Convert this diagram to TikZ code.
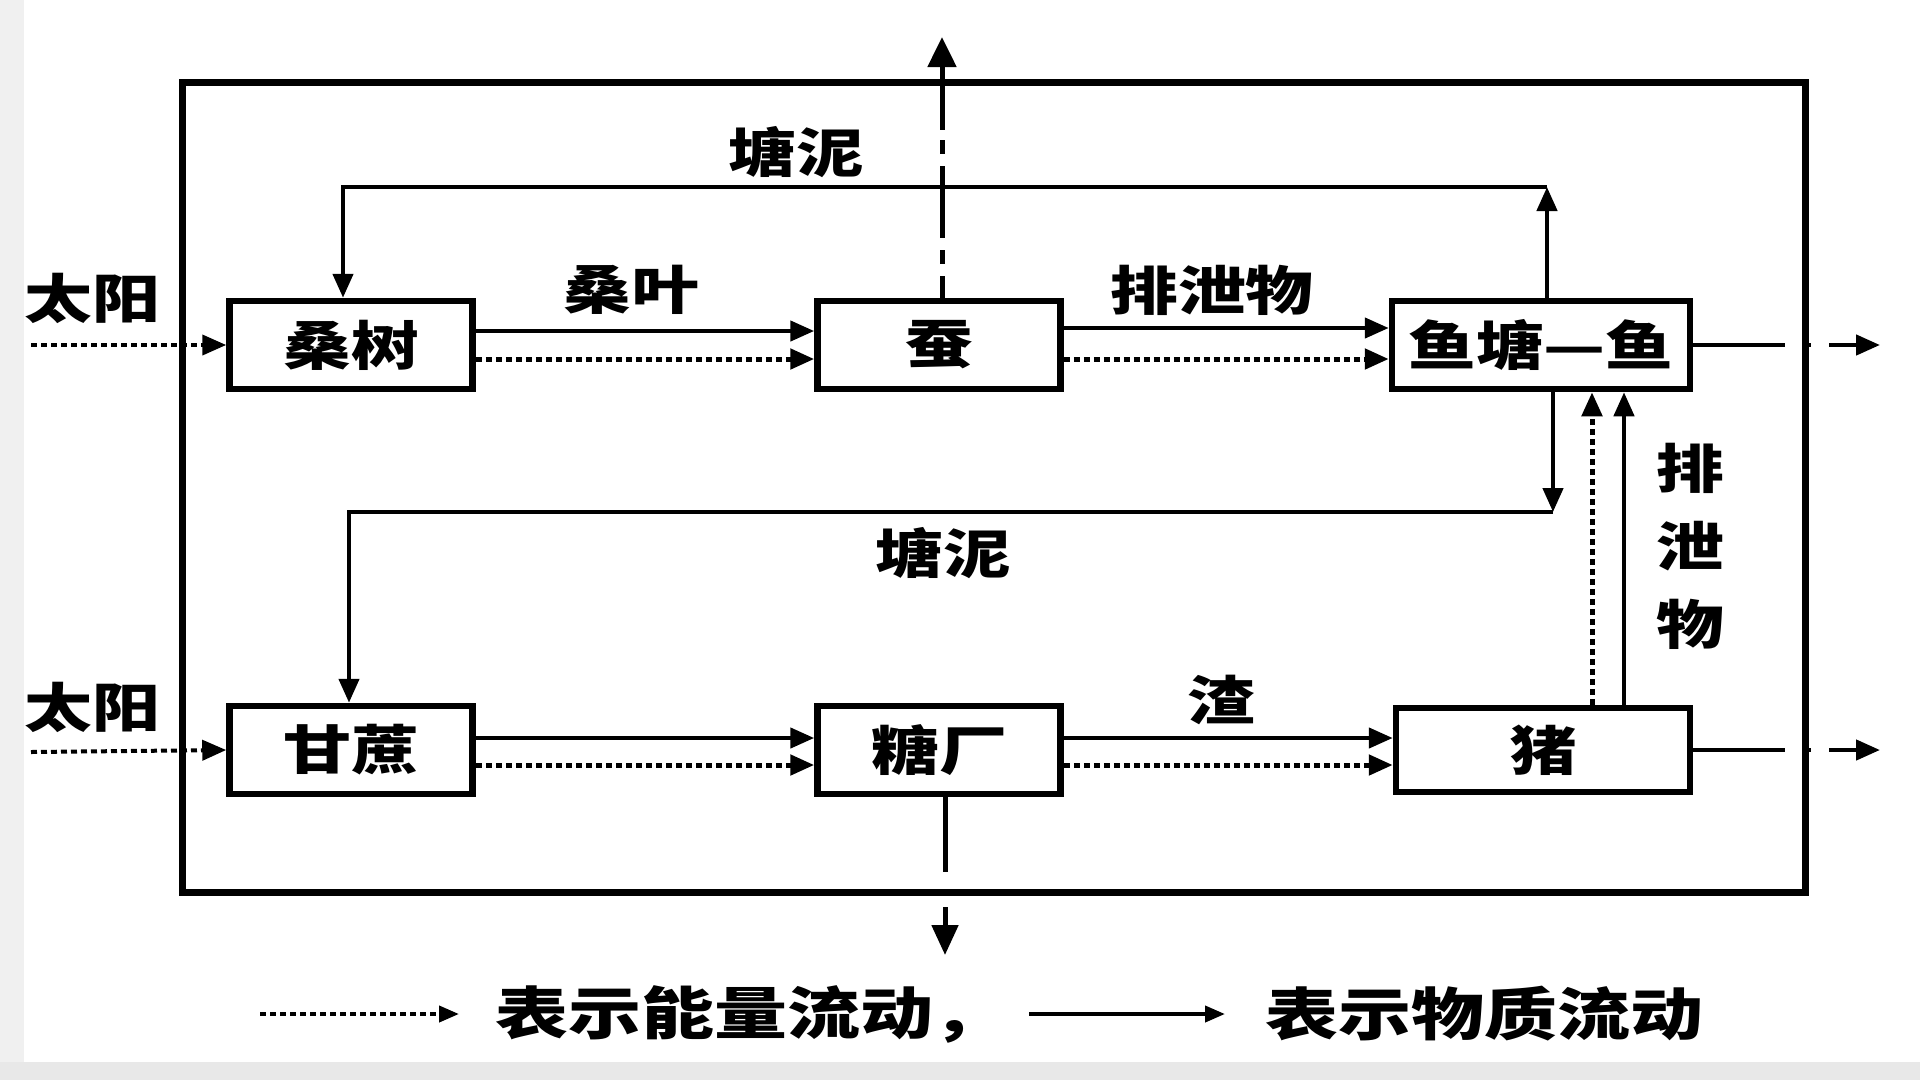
\documentclass[tikz,border=0pt]{standalone}
\usepackage{fontspec}
\newfontfamily\cjk[FakeStretch=1.28]{Noto Sans CJK SC}
\usetikzlibrary{arrows.meta}

\begin{document}
\begin{tikzpicture}[x=1pt,y=-1pt,
    box/.style={draw,line width=6.5pt,minimum width=243pt,minimum height=88pt,inner sep=0pt,
      font=\cjk\bfseries\fontsize{53}{60}\selectfont},
    lbl/.style={inner sep=0pt,align=center,font=\cjk\bfseries\fontsize{53}{78}\selectfont},
    mat/.style={line width=4.5pt,-{Triangle[length=24pt,width=20pt]}},
    ene/.style={mat,line width=5pt,dash pattern=on 6pt off 4pt}]
\useasboundingbox (0,0) rectangle (1920,1080);
\fill[gray!12] (0,0) rectangle (24,1080);
\fill[gray!18] (0,1062) rectangle (1920,1080);
\draw[line width=7pt] (182,82) rectangle (1805,892);

\node (sang) [box] at (351,345) {桑树};
\node (can) [box] at (939,345) {蚕};
\node (yu) [box,minimum width=298pt] at (1541,345) {鱼塘—鱼};
\node (gz) [box] at (351,750) {甘蔗};
\node (tc) [box] at (939,750) {糖厂};
\node (zhu) [box,minimum width=294pt,minimum height=84pt] at (1543,750) {猪};

\node (sunA) [lbl] at (92,298) {太阳};
\node (sunB) [lbl] at (92,707) {太阳};
\node (ye) [lbl] at (631,290) {桑叶};
\node (pxA) [lbl] at (1212,290) {排泄物};
\node (tnA) [lbl] at (796,152) {塘泥};
\node (tnB) [lbl] at (943,553) {塘泥};
\node (zha) [lbl] at (1221,700) {渣};
\node (pxB) [lbl] at (1690,546) {排\\泄\\物};

\coordinate (sunAs) at (31,345);
\coordinate (sunBs) at (31,752);
\draw[ene,line width=4pt] (sunAs) -- (sang.west);
\draw[ene,line width=4pt] (sunBs) -- (gz.west);

\draw[mat] ([yshift=14pt]sang.east) -- ([yshift=14pt]can.west);
\draw[ene] ([yshift=-14pt]sang.east) -- ([yshift=-14pt]can.west);
\draw[mat] ([yshift=17pt]can.east) -- ([yshift=17pt]yu.west);
\draw[ene] ([yshift=-14pt]can.east) -- ([yshift=-14pt]yu.west);
\draw[mat] ([yshift=12pt]gz.east) -- ([yshift=12pt]tc.west);
\draw[ene] ([yshift=-15pt]gz.east) -- ([yshift=-15pt]tc.west);
\draw[mat] ([yshift=12pt]tc.east) -- ([yshift=12pt]zhu.west);
\draw[ene] ([yshift=-15pt]tc.east) -- ([yshift=-15pt]zhu.west);

\coordinate (tA) at (1547,187);
\coordinate (tB) at (343,187);
\draw[mat] (yu.north -| tA) -- (tA);
\draw[mat] (tA) -- (tB) -- (sang.north -| tB);
\coordinate (mA) at (1553,512);
\coordinate (mB) at (349,512);
\draw[mat] (yu.south -| mA) -- (mA);
\draw[mat] (mA) -- (mB) -- (gz.north -| mB);

\draw[ene] ([xshift=49pt]zhu.north) -- ([xshift=49pt]zhu.north |- yu.south);
\draw[mat] ([xshift=81pt]zhu.north) -- ([xshift=81pt]zhu.north |- yu.south);

\coordinate (canUp) at (942,37);
\coordinate (tcDown) at (945,955);
\coordinate (yuEnd) at (1880,345);
\coordinate (zhuEnd) at (1880,750);
\draw[mat,line width=5pt,dash pattern=on 22pt off 12pt on 14pt off 12pt on 72pt off 12pt on 14pt off 10pt on 120pt,
  -{Triangle[length=30pt,width=28pt]}] (can.north -| canUp) -- (canUp);
\draw[mat,line width=5pt,dash pattern=on 75pt off 35pt on 100pt,
  -{Triangle[length=30pt,width=26pt]}] (tc.south -| tcDown) -- (tcDown);
\draw[mat,dash pattern=on 92pt off 18pt on 8pt off 18pt on 60pt] (yu.east) -- (yuEnd);
\draw[mat,dash pattern=on 92pt off 18pt on 8pt off 18pt on 60pt] (zhu.east) -- (zhuEnd);

\coordinate (lgA) at (260,1014);
\coordinate (lgB) at (459,1014);
\coordinate (lgC) at (1029,1014);
\coordinate (lgD) at (1225,1014);
\draw[ene,line width=4pt,-{Triangle[length=20pt,width=16pt]}] (lgA) -- (lgB);
\draw[mat,line width=4pt,-{Triangle[length=20pt,width=16pt]}] (lgC) -- (lgD);
\node (lgE) [lbl,anchor=west,font=\cjk\bfseries\fontsize{57}{60}\selectfont] at (495,1014) {表示能量流动，};
\node (lgM) [lbl,anchor=west,font=\cjk\bfseries\fontsize{57}{60}\selectfont] at (1265,1014) {表示物质流动};
\end{tikzpicture}
\end{document}
